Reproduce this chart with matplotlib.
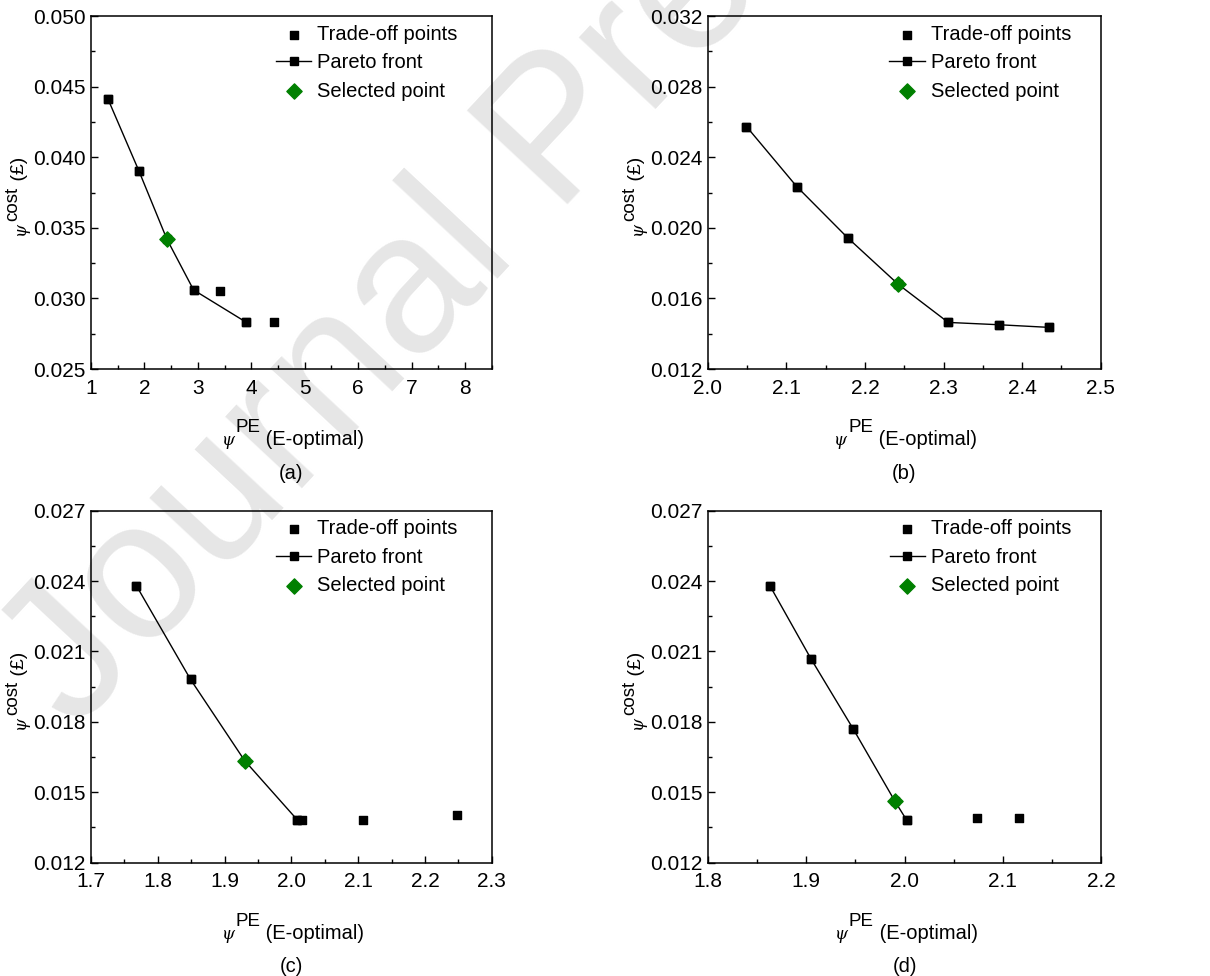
import numpy as np
import matplotlib
matplotlib.use("Agg")
import matplotlib.pyplot as plt
from matplotlib.ticker import MultipleLocator, FormatStrFormatter

plt.rcParams["font.family"] = ["Liberation Sans", "DejaVu Sans"]

# (a)
a_trade_x = [1.32, 1.90, 2.92, 3.41, 3.91, 4.42]
a_trade_y = [0.0441, 0.0390, 0.0306, 0.0305, 0.0283, 0.0283]
a_front_x = [1.32, 1.90, 2.42, 2.92, 3.91]
a_front_y = [0.0441, 0.0390, 0.0342, 0.0306, 0.0283]
a_sel = [2.42, 0.0342]

# (b)
b_trade_x = [2.049, 2.113, 2.178, 2.242, 2.306, 2.370, 2.434]
b_trade_y = [0.02574, 0.02234, 0.01943, 0.01681, 0.01464, 0.01451, 0.01436]
b_front_x = b_trade_x
b_front_y = b_trade_y
b_sel = [2.242, 0.01681]

# (c)
c_trade_x = [1.768, 1.849, 2.009, 2.016, 2.107, 2.248]
c_trade_y = [0.02380, 0.01981, 0.01382, 0.01382, 0.01382, 0.01403]
c_front_x = [1.768, 1.849, 1.930, 2.009]
c_front_y = [0.02380, 0.01981, 0.01635, 0.01382]
c_sel = [1.930, 0.01635]

# (d)
d_trade_x = [1.863, 1.905, 1.948, 2.002, 2.074, 2.116]
d_trade_y = [0.02380, 0.02067, 0.01768, 0.01382, 0.01392, 0.01389]
d_front_x = [1.863, 1.905, 1.948, 1.990, 2.002]
d_front_y = [0.02380, 0.02067, 0.01768, 0.01463, 0.01382]
d_sel = [1.990, 0.01463]

panels = [
    dict(tx=a_trade_x, ty=a_trade_y, fx=a_front_x, fy=a_front_y, sel=a_sel,
         xlim=(1, 8.5), ylim=(0.025, 0.050), xmaj=1, xmin=0.5, ymaj=0.005, ymin=0.0025,
         xfmt="%d", cap="(a)", pos=[0.0752, 0.6219, 0.3312, 0.3617]),
    dict(tx=b_trade_x, ty=b_trade_y, fx=b_front_x, fy=b_front_y, sel=b_sel,
         xlim=(2.0, 2.5), ylim=(0.012, 0.032), xmaj=0.1, xmin=0.05, ymaj=0.004, ymin=0.002,
         xfmt="%.1f", cap="(b)", pos=[0.5851, 0.6219, 0.3245, 0.3617]),
    dict(tx=c_trade_x, ty=c_trade_y, fx=c_front_x, fy=c_front_y, sel=c_sel,
         xlim=(1.7, 2.3), ylim=(0.012, 0.027), xmaj=0.1, xmin=0.05, ymaj=0.003, ymin=0.0015,
         xfmt="%.1f", cap="(c)", pos=[0.0752, 0.1161, 0.3312, 0.3607]),
    dict(tx=d_trade_x, ty=d_trade_y, fx=d_front_x, fy=d_front_y, sel=d_sel,
         xlim=(1.8, 2.2), ylim=(0.012, 0.027), xmaj=0.1, xmin=0.05, ymaj=0.003, ymin=0.0015,
         xfmt="%.1f", cap="(d)", pos=[0.5851, 0.1161, 0.3250, 0.3607]),
]

fig = plt.figure(figsize=(12.1, 9.76), dpi=100)

# watermark behind everything
fig.text(0.062, 0.25, "Journal Pre-proof", rotation=47, rotation_mode="anchor",
         ha="left", va="baseline", fontsize=143, color="#e6e6e6", zorder=-5)

psi_font = dict(family=["DejaVu Serif"], style="italic")

for p in panels:
    ax = fig.add_axes(p["pos"])
    ax.set_facecolor("none")

    (front,) = ax.plot(p["fx"], p["fy"], "-s", color="black", lw=1.0, ms=6, label="Pareto front")
    trade = ax.scatter(p["tx"], p["ty"], marker="s", s=36, color="black", zorder=3,
                       label="Trade-off points")
    sel = ax.scatter([p["sel"][0]], [p["sel"][1]], marker="D", s=60, color="#008000",
                     zorder=4, label="Selected point")

    ax.set_xlim(p["xlim"])
    ax.set_ylim(p["ylim"])
    ax.xaxis.set_major_locator(MultipleLocator(p["xmaj"]))
    ax.xaxis.set_minor_locator(MultipleLocator(p["xmin"]))
    ax.yaxis.set_major_locator(MultipleLocator(p["ymaj"]))
    ax.yaxis.set_minor_locator(MultipleLocator(p["ymin"]))
    ax.xaxis.set_major_formatter(FormatStrFormatter(p["xfmt"]))
    ax.yaxis.set_major_formatter(FormatStrFormatter("%.3f"))
    ax.tick_params(which="both", direction="in", top=False, right=False, width=1.0)
    ax.tick_params(which="major", length=5, labelsize=15)
    ax.tick_params(axis="x", which="major", pad=7)
    ax.tick_params(axis="y", which="major", pad=4)
    ax.tick_params(which="minor", length=3)
    for s in ax.spines.values():
        s.set_linewidth(1.1)

    ax.legend(handles=[trade, front, sel], loc="upper left", bbox_to_anchor=(0.462, 0.975),
              frameon=False, fontsize=14.5, borderpad=0, borderaxespad=0,
              handlelength=1.75, handletextpad=0.3, labelspacing=0.47)

    # x label: psi^PE (E-optimal)
    t1 = ax.annotate("ψ", xy=(0.5, 0), xycoords="axes fraction", xytext=(-70, -80),
                     textcoords="offset pixels", ha="left", va="bottom", fontsize=12, **psi_font)
    t2 = ax.annotate("PE", xy=(1, 0), xycoords=t1, xytext=(1, 13),
                     textcoords="offset pixels", ha="left", va="bottom", fontsize=13.5)
    ax.annotate(" (E-optimal)", xy=(1, 0), xycoords=t2, xytext=(0, -13),
                textcoords="offset pixels", ha="left", va="bottom", fontsize=14.5)

    # y label: psi^cost (£)
    u1 = ax.annotate("ψ", xy=(0, 0.5), xycoords="axes fraction", xytext=(-62, -42),
                     textcoords="offset pixels", rotation=90, ha="right", va="bottom",
                     fontsize=12, **psi_font)
    u2 = ax.annotate("cost", xy=(1, 1), xycoords=u1, xytext=(-8, 1),
                     textcoords="offset pixels", rotation=90, ha="right", va="bottom",
                     fontsize=13.5)
    ax.annotate(" (£)", xy=(1, 1), xycoords=u2, xytext=(7, 0),
                textcoords="offset pixels", rotation=90, ha="right", va="bottom",
                fontsize=14)

    ax.text(0.5, -0.295, p["cap"], transform=ax.transAxes, ha="center", va="center",
            fontsize=14.5)

fig.savefig("out.png", dpi=100)
